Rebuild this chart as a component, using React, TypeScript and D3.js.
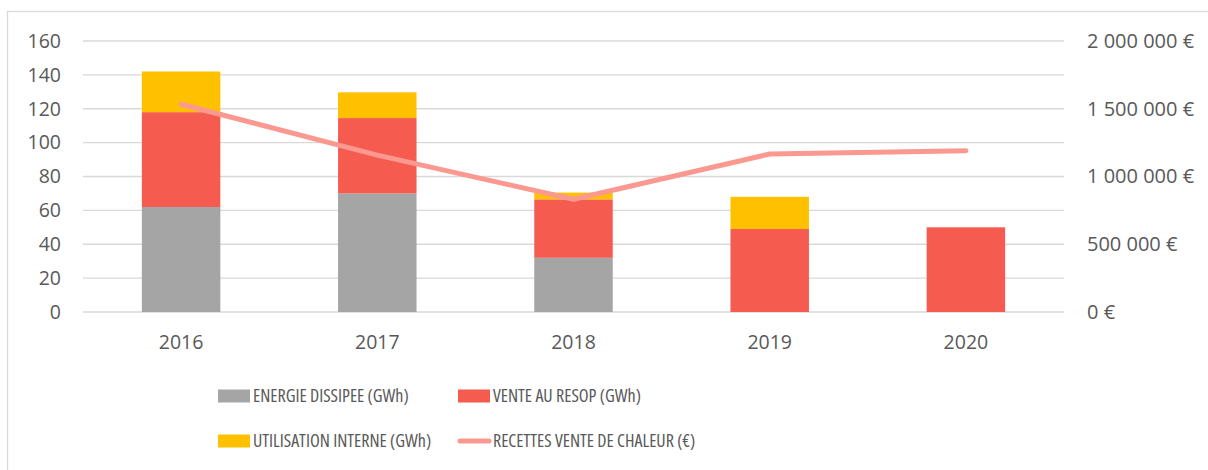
import { useEffect, useRef } from 'react';
import * as d3 from 'd3';

const years = ['2016', '2017', '2018', '2019', '2020'];
const energieDissipee = [62, 70, 32, 0, 0];
const venteResop = [56, 44.5, 34.5, 49, 50];
const utilisationInterne = [24, 15.2, 4, 19, 0];
const recettes = [1533000, 1158000, 832000, 1166000, 1190000];
const leftTicks = [0, 20, 40, 60, 80, 100, 120, 140, 160];
const rightTicks = [0, 500000, 1000000, 1500000, 2000000];

const seriesNames = ['ENERGIE DISSIPEE (GWh)', 'VENTE AU RESOP (GWh)', 'UTILISATION INTERNE (GWh)'];
const colors = ['#A5A5A5', '#F65B50', '#FFC000'];
const lineColor = '#FB9990';
const lineName = 'RECETTES VENTE DE CHALEUR (€)';

const W = 1208;
const H = 470;
const FONT = "'Open Sans', sans-serif";

const App = () => {
  const ref = useRef<SVGSVGElement>(null);

  useEffect(() => {
    const svg = d3.select(ref.current);
    svg.selectAll('*').remove();

    const margin = { left: 83, right: 144, top: 41, bottom: 158 };
    const innerW = W - margin.left - margin.right;
    const innerH = H - margin.top - margin.bottom;

    // cadre
    svg.append('rect')
      .attr('x', 7.5).attr('y', 11.5).attr('width', W + 10).attr('height', H)
      .attr('fill', 'white').attr('stroke', '#D9D9D9').attr('stroke-width', 1.3);

    const g = svg.append('g').attr('transform', `translate(${margin.left},${margin.top})`);

    const x = d3.scaleBand().domain(years).range([0, innerW]).paddingInner(0.6).paddingOuter(0.3);
    const y = d3.scaleLinear().domain([0, 160]).range([innerH, 0]);
    const y2 = d3.scaleLinear().domain([0, 2000000]).range([innerH, 0]);

    // grille
    g.append('g')
      .selectAll('line')
      .data(leftTicks)
      .join('line')
      .attr('x1', 0).attr('x2', innerW)
      .attr('y1', d => y(d)).attr('y2', d => y(d))
      .attr('stroke', '#D9D9D9').attr('stroke-width', 1.3);

    // axes
    const yAxis = g.append('g').call(d3.axisLeft(y).tickValues(leftTicks).tickSize(0).tickPadding(22));
    yAxis.select('.domain').remove();
    yAxis.selectAll('text').attr('font-family', FONT).attr('font-size', 19.5).attr('fill', '#595959');

    const fmtEuro = (v: number) => d3.format(',')(v).replace(/,/g, ' ') + ' €';
    const y2Axis = g.append('g').attr('transform', `translate(${innerW},0)`)
      .call(d3.axisRight(y2).tickValues(rightTicks).tickSize(0).tickPadding(23).tickFormat(d => fmtEuro(+d)));
    y2Axis.select('.domain').remove();
    y2Axis.selectAll('text').attr('font-family', FONT).attr('font-size', 20).attr('fill', '#595959');

    const xAxis = g.append('g').attr('transform', `translate(0,${innerH})`)
      .call(d3.axisBottom(x).tickSize(0).tickPadding(23));
    xAxis.select('.domain').remove();
    xAxis.selectAll('text').attr('font-family', FONT).attr('font-size', 19.5).attr('fill', '#595959');

    // barres empilées
    const rows = years.map((yr, i) => ({
      year: yr,
      a: energieDissipee[i],
      b: venteResop[i],
      c: utilisationInterne[i],
    }));
    const stack = d3.stack<any>().keys(['a', 'b', 'c'])(rows);

    stack.forEach((layer, li) => {
      g.append('g')
        .selectAll('rect')
        .data(layer)
        .join('rect')
        .attr('x', d => x(d.data.year)!)
        .attr('width', x.bandwidth())
        .attr('y', d => y(d[1]))
        .attr('height', d => y(d[0]) - y(d[1]))
        .attr('fill', colors[li]);
    });

    // courbe recettes
    const line = d3.line<number>()
      .x((_, i) => x(years[i])! + x.bandwidth() / 2)
      .y(d => y2(d));
    g.append('path')
      .datum(recettes)
      .attr('fill', 'none')
      .attr('stroke', lineColor)
      .attr('stroke-width', 5)
      .attr('stroke-linecap', 'round')
      .attr('stroke-linejoin', 'round')
      .attr('d', line);

    // légende
    const legend = [
      { name: seriesNames[0], color: colors[0], type: 'rect', x: 218, y: 396 },
      { name: seriesNames[1], color: colors[1], type: 'rect', x: 458, y: 396 },
      { name: seriesNames[2], color: colors[2], type: 'rect', x: 218, y: 441 },
      { name: lineName, color: lineColor, type: 'line', x: 458, y: 441 },
    ];
    legend.forEach(l => {
      const lg = svg.append('g').attr('transform', `translate(${l.x},${l.y})`);
      if (l.type === 'rect') {
        lg.append('rect').attr('x', 0).attr('y', -6.5).attr('width', 32).attr('height', 13).attr('fill', l.color);
      } else {
        lg.append('line').attr('x1', 2).attr('x2', 31).attr('y1', 0).attr('y2', 0)
          .attr('stroke', l.color).attr('stroke-width', 5).attr('stroke-linecap', 'round');
      }
      lg.append('text')
        .attr('x', 35).attr('y', 0).attr('dy', '0.35em')
        .attr('font-family', FONT).attr('font-size', 18).attr('fill', '#595959')
        .style('font-stretch', 'condensed')
        .text(l.name);
    });
  }, []);

  return (
    <svg ref={ref} width={W} height={H} style={{ position: 'absolute', left: 0, top: 0, background: 'white' }} />
  );
};

export default App;
